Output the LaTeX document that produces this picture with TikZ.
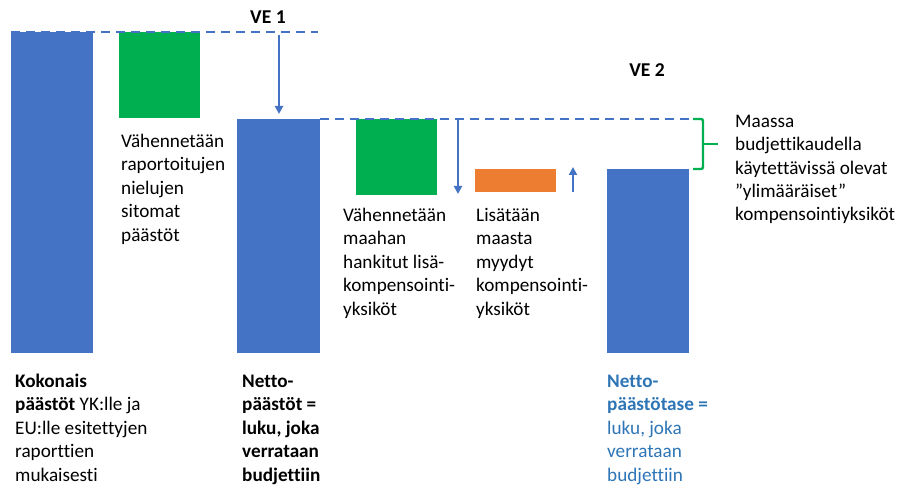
\documentclass[tikz,border=0pt]{standalone}
\usepackage{fontspec}
\setmainfont{Carlito}[Ligatures={NoCommon,NoRequired}]
\usetikzlibrary{arrows.meta,positioning}
\definecolor{barblue}{HTML}{4472C4}
\definecolor{sinkgreen}{HTML}{00B050}
\definecolor{unitorange}{HTML}{ED7D31}
\definecolor{netblue}{HTML}{2E75B6}

\begin{document}
\begin{tikzpicture}[
  x=1pt, y=-1pt,
  bar/.style={rectangle, fill=barblue, inner sep=0pt, anchor=north west},
  gbar/.style={bar, fill=sinkgreen},
  obar/.style={bar, fill=unitorange},
  lbl/.style={align=left, inner sep=0pt, anchor=base west, font=\fontsize{19.2}{23.4}\selectfont},
  head/.style={inner sep=0pt, anchor=base, font=\fontsize{19.6}{23.4}\selectfont\bfseries},
  level/.style={barblue, line width=2pt, dash pattern=on 9pt off 6pt},
  arr/.style={barblue, line width=2pt, -{Triangle[length=8pt, width=8pt]}},
  brace/.style={sinkgreen, line width=2.4pt, rounded corners=2pt}
]
\useasboundingbox (0,0) rectangle (899,489);

% bars
\node[bar, minimum width=82pt, minimum height=321pt] (total) at (11,32) {};
\node[gbar, minimum width=81pt, minimum height=86pt] (sinks) at (119,32) {};
\node[bar, minimum width=83pt, minimum height=234pt] (net) at (237,119) {};
\node[gbar, minimum width=81pt, minimum height=76pt] (bought) at (356,119) {};
\node[obar, minimum width=81pt, minimum height=23pt] (sold) at (475,169) {};
\node[bar, minimum width=82pt, minimum height=184pt] (balance) at (607,169) {};

% levels
\coordinate (lvl1end) at (318,32);
\coordinate (lvl2end) at (693,119);
\draw[level] (total.north west) -- (lvl1end);
\draw[level] (net.north east) -- (lvl2end);

% arrows
\coordinate (ve1top) at (279,35);
\coordinate (ve1tip) at (279,114);
\draw[arr] (ve1top) -- (ve1tip);
\coordinate (ve2top) at (458,119);
\coordinate (ve2tip) at (458,194);
\draw[arr] (ve2top) -- (ve2tip);
\coordinate (upfoot) at (573,192);
\coordinate (uptip) at (573,167);
\draw[arr] (upfoot) -- (uptip);

% brace
\coordinate (bracetop) at (693,119);
\coordinate (bracebot) at (693,169);
\coordinate (bracetip) at (718,144);
\draw[brace] (bracetop) -- ++(10,0) -- ++(0,50) -- (bracebot);
\draw[brace] (bracetip) -- ++(-15,0);

% headings
\node[head] (ve1) at (268,24) {VE 1};
\node[head] (ve2) at (647,77) {VE 2};

% texts (anchored at the last line)
\node[lbl] (sinkstext) at (121,241) {Vähennetään\\raportoitujen\\nielujen\\sitomat\\päästöt};
\node[lbl] (boughttext) at (343,315) {Vähennetään\\maahan\\hankitut lisä-\\kompensointi-\\yksiköt};
\node[lbl] (soldtext) at (476,315) {Lisätään\\maasta\\myydyt\\kompensointi-\\yksiköt};
\node[lbl] (sparetext) at (735,221) {Maassa\\budjettikaudella\\käytettävissä olevat\\”ylimääräiset”\\kompensointiyksiköt};
\node[lbl] (totaltext) at (15,481) {\textbf{Kokonais}\\\textbf{päästöt} YK:lle ja\\EU:lle esitettyjen\\raporttien\\mukaisesti};
\node[lbl, font=\fontsize{19.2}{23.4}\selectfont\bfseries] (nettext) at (242,481) {Netto-\\päästöt =\\luku, joka\\verrataan\\budjettiin};
\node[lbl, text=netblue] (balancetext) at (607,481) {\textbf{Netto-}\\\textbf{päästötase =}\\luku, joka\\verrataan\\budjettiin};
\end{tikzpicture}
\end{document}
